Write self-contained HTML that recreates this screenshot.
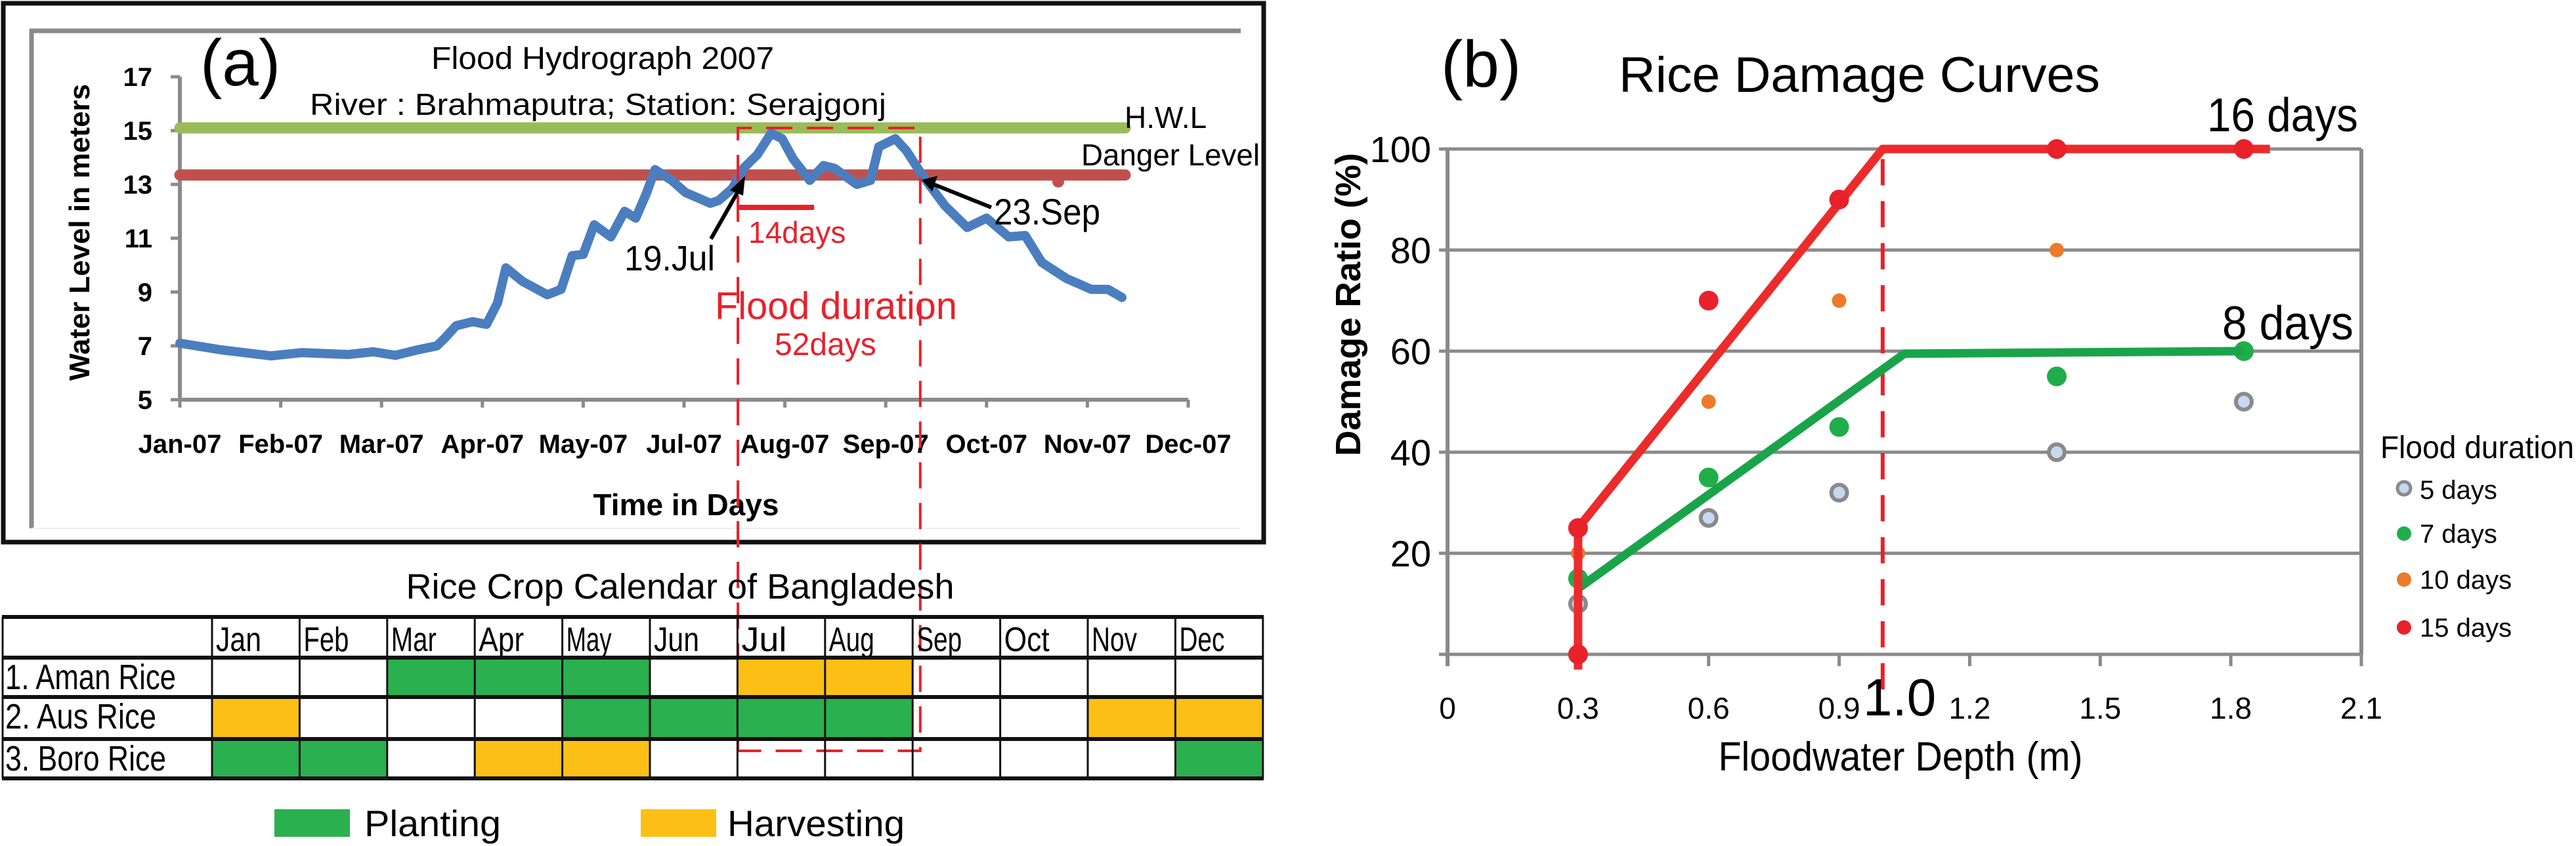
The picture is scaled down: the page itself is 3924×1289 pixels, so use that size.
<!DOCTYPE html>
<html><head><meta charset="utf-8"><style>
html,body{margin:0;padding:0;background:#fff;width:3924px;height:1289px;overflow:hidden}
svg text{font-family:"Liberation Sans",sans-serif}
</style></head><body>
<svg id="fig" width="3924" height="1289" viewBox="0 0 3924 1289" xmlns="http://www.w3.org/2000/svg">
<g id="panelA">
 <rect x="5" y="5" width="1920" height="821" fill="none" stroke="#111" stroke-width="7"/>
 <path d="M48 805 V47 H1890" fill="none" stroke="#8a8a8a" stroke-width="7"/>
 <line x1="48" y1="805" x2="1890" y2="805" stroke="#eee" stroke-width="2"/>
 <text x="305" y="130" font-size="100">(a)</text>
 <text x="918" y="105" font-size="48" text-anchor="middle" textLength="522" lengthAdjust="spacingAndGlyphs">Flood Hydrograph 2007</text>
 <text x="472" y="175" font-size="46" textLength="878" lengthAdjust="spacingAndGlyphs">River : Brahmaputra;  Station: Serajgonj</text>
 <text transform="translate(136,354) rotate(-90)" font-size="44" font-weight="bold" text-anchor="middle" textLength="452" lengthAdjust="spacingAndGlyphs">Water Level in meters</text>
 <text x="1045" y="785" font-size="46" font-weight="bold" text-anchor="middle">Time in Days</text>
 <g id="aAxes"></g>
 <g id="aSeries"></g>
 <text x="1713" y="195" font-size="46">H.W.L</text>
 <text x="1647" y="252" font-size="46" textLength="272" lengthAdjust="spacingAndGlyphs">Danger Level</text>
 <g id="aAnnot"></g>
</g>
<g id="calendar">
 <text x="1036" y="912" font-size="54" text-anchor="middle" textLength="835" lengthAdjust="spacingAndGlyphs">Rice Crop Calendar of Bangladesh</text>
 <g id="calTable"></g>
 <rect x="418" y="1233" width="115" height="42" fill="#2bb04f"/>
 <text x="555" y="1274" font-size="56" textLength="208" lengthAdjust="spacingAndGlyphs">Planting</text>
 <rect x="976" y="1233" width="115" height="42" fill="#fcbf16"/>
 <text x="1108" y="1274" font-size="56" textLength="270" lengthAdjust="spacingAndGlyphs">Harvesting</text>
</g>
<g id="panelB">
 <text x="2195" y="132" font-size="100">(b)</text>
 <text x="2466" y="140" font-size="76" textLength="733" lengthAdjust="spacingAndGlyphs">Rice Damage Curves</text>
 <text transform="translate(2072,464) rotate(-90)" font-size="54" font-weight="bold" text-anchor="middle" textLength="462" lengthAdjust="spacingAndGlyphs">Damage Ratio (%)</text>
 <text x="2895" y="1174" font-size="62" text-anchor="middle" textLength="555" lengthAdjust="spacingAndGlyphs">Floodwater Depth (m)</text>
 <g id="bAxes"></g>
 <g id="bSeries"></g>
 <text x="3362" y="200" font-size="72" textLength="230" lengthAdjust="spacingAndGlyphs">16 days</text>
 <text x="3385" y="517" font-size="72" textLength="200" lengthAdjust="spacingAndGlyphs">8 days</text>
 <text x="2838" y="1090" font-size="80">1.0</text>
 <g id="bLegend"></g>
</g>
</svg>
<script>
// ---------- Panel (a) data ----------
const aYTicks = [5, 7, 9, 11, 13, 15, 17];
const aXTickLabels = ["Jan-07","Feb-07","Mar-07","Apr-07","May-07","Jul-07","Aug-07","Sep-07","Oct-07","Nov-07","Dec-07"];
const levelDays = [0,15,33,44,61,70,78,86,93,96,100,106,111,115,118,124,133,138,142,146,150,156,161,165,169,172,178,183,192,195,200,204,209,214,218,222,228,233,237,245,250,253,259,263,269,277,285,292,300,306,312,321,330,336,341];
const levelValues = [7.1,6.85,6.63,6.75,6.68,6.78,6.65,6.85,7.0,7.3,7.75,7.9,7.8,8.6,9.9,9.4,8.9,9.1,10.35,10.4,11.5,11.05,12.0,11.75,12.7,13.55,13.15,12.7,12.3,12.4,12.85,13.6,14.1,14.9,14.7,13.95,13.15,13.7,13.6,13.0,13.15,14.4,14.7,14.25,13.3,12.2,11.4,11.75,11.05,11.1,10.1,9.5,9.1,9.1,8.8];
const hwlLevel = [15.1];
const dangerLevel = [13.35];
const floodDays = [202, 268];
// ---------- Calendar data ----------
const calMonths = ["Jan","Feb","Mar","Apr","May","Jun","Jul","Aug","Sep","Oct","Nov","Dec"];
const calCrops = ["1. Aman Rice","2. Aus Rice","3. Boro Rice"];
const calStatus = [
 "..PPP.HH....",
 "H...PPPP..HH",
 "PP.HH......P"];
// ---------- Panel (b) data ----------
const bYTicks = [0,20,40,60,80,100];
const bXTicks = ["0","0.3","0.6","0.9","1.2","1.5","1.8","2.1"];
const curve16X = [0.3,0.3,1.0,1.89];
const curve16Y = [-3,25,100,100];
const curve8X = [0.3,1.05,1.83];
const curve8Y = [13,59.5,60];
const d5X = [0.3,0.3,0.6,0.9,1.4,1.83];
const d5Y = [10,0,27,32,40,50];
const d7X = [0.3,0.6,0.9,1.4,1.83];
const d7Y = [15,35,45,55,60];
const d10X = [0.3,0.6,0.9,1.4];
const d10Y = [20,50,70,80];
const d15X = [0.3,0.3,0.6,0.9,1.4,1.83];
const d15Y = [25,0,70,90,100,100];
const legendLabels = ["5 days","7 days","10 days","15 days"];

const NS="http://www.w3.org/2000/svg";
function mk(parent, tag, attrs, txt){const e=document.createElementNS(NS,tag);for(const k in attrs)e.setAttribute(k,attrs[k]);if(txt!==undefined)e.textContent=txt;parent.appendChild(e);return e;}

const ax = d => 274 + d*(1536/365);
const ay = v => 609 - (v-5)*41;
const aAxes=document.getElementById('aAxes');
let e;
e=mk(aAxes,'line',{x1:274,y1:ay(17),x2:274,y2:ay(5),stroke:'#8a8a8a','stroke-width':6});


e=mk(aAxes,'line',{x1:274,y1:ay(5),x2:1810,y2:ay(5),stroke:'#8a8a8a','stroke-width':6});


aYTicks.forEach(v=>{
 mk(aAxes,'line',{x1:260,y1:ay(v),x2:274,y2:ay(v),stroke:'#8a8a8a','stroke-width':5});
 e=mk(aAxes,'text',{x:232,y:ay(v)+14,'font-size':40,'font-weight':'bold','text-anchor':'end'},String(v));
 
 
});
aXTickLabels.forEach((l,i)=>{
 const x=ax(i*36.5);
 mk(aAxes,'line',{x1:x,y1:ay(5),x2:x,y2:ay(5)+12,stroke:'#8a8a8a','stroke-width':5});
 e=mk(aAxes,'text',{x:x,y:690,'font-size':40,'font-weight':'bold','text-anchor':'middle'},l);
 
 
});
const aS=document.getElementById('aSeries');
e=mk(aS,'line',{x1:274,y1:ay(hwlLevel[0]),x2:1714,y2:ay(hwlLevel[0]),stroke:'#9bbb59','stroke-width':17,'stroke-linecap':'round'});


e=mk(aS,'line',{x1:274,y1:ay(dangerLevel[0]),x2:1714,y2:ay(dangerLevel[0]),stroke:'#c0504d','stroke-width':17,'stroke-linecap':'round'});


mk(aS,'circle',{cx:1612,cy:ay(dangerLevel[0])+10,r:9,fill:'#c0504d'});
e=mk(aS,'polyline',{points:levelDays.map((d,i)=>ax(d).toFixed(1)+','+ay(levelValues[i]).toFixed(1)).join(' '),fill:'none',stroke:'#4a7ebf','stroke-width':14,'stroke-linejoin':'round','stroke-linecap':'round'});



const an=document.getElementById('aAnnot');
const fx1=ax(floodDays[0]), fx2=ax(floodDays[1]);
e=mk(an,'path',{d:`M${fx1} 1144 V195 H${fx2} V1144 H${fx1}`,fill:'none',stroke:'#e8212b','stroke-width':4,'stroke-dasharray':'40 22'});


e=mk(an,'line',{x1:fx1,y1:316,x2:fx1+116,y2:316,stroke:'#e8212b','stroke-width':8});


mk(an,'text',{x:1140,y:370,'font-size':46,fill:'#e8212b'},'14days');
mk(an,'text',{x:1089,y:486,'font-size':58,fill:'#e8212b',textLength:369,lengthAdjust:'spacingAndGlyphs'},'Flood duration');
mk(an,'text',{x:1180,y:541,'font-size':48,fill:'#e8212b'},'52days');
mk(an,'text',{x:951,y:412,'font-size':54,textLength:138,lengthAdjust:'spacingAndGlyphs'},'19.Jul');
mk(an,'text',{x:1514,y:342,'font-size':56,textLength:162,lengthAdjust:'spacingAndGlyphs'},'23.Sep');
mk(an,'line',{x1:1083,y1:364,x2:1128,y2:285,stroke:'#000','stroke-width':6});
mk(an,'polygon',{points:'1135,268 1112,290 1132,298',fill:'#000'});
mk(an,'line',{x1:1510,y1:316,x2:1420,y2:280,stroke:'#000','stroke-width':6});
mk(an,'polygon',{points:'1404,274 1428,268 1420,292',fill:'#000'});

const ct=document.getElementById('calTable');
const colX = i => 323 + i*133.4;
const rowY=[940,1002,1062,1126,1186];
calStatus.forEach((r,ri)=>{
 [...r].forEach((c,ci)=>{
  if(c==='.')return;
  e=mk(ct,'rect',{x:colX(ci),y:rowY[ri+1],width:133.4,height:rowY[ri+2]-rowY[ri+1],fill:c==='P'?'#2bb04f':'#fcbf16'});
  
  
 });
 e=mk(ct,'text',{x:8,y:rowY[ri+1]+48,'font-size':54,textLength:[260,230,245][ri],lengthAdjust:'spacingAndGlyphs'},calCrops[ri]);
 
 
});
calMonths.forEach((m,i)=>{
 e=mk(ct,'text',{x:colX(i)+6,y:992,'font-size':52,textLength:m.length*23,lengthAdjust:'spacingAndGlyphs'},m);
 
 
});
for(let i=0;i<=12;i++) mk(ct,'line',{x1:colX(i),y1:940,x2:colX(i),y2:1186,stroke:'#111','stroke-width':3});
mk(ct,'line',{x1:4,y1:940,x2:4,y2:1186,stroke:'#111','stroke-width':3});
rowY.forEach(y=>mk(ct,'line',{x1:3,y1:y,x2:1925,y2:y,stroke:'#111','stroke-width':6}));

const bx = v => 2205 + v*(1392/2.1);
const by = v => 997 - v*7.7;
const bA=document.getElementById('bAxes');
bYTicks.forEach(v=>{
 mk(bA,'line',{x1:2192,y1:by(v),x2:bx(2.1),y2:by(v),stroke:'#8a8a8a','stroke-width':5});
 if(v>0){e=mk(bA,'text',{x:2180,y:by(v)+20,'font-size':56,'text-anchor':'end'},String(v));
 
 }
});
mk(bA,'line',{x1:bx(0),y1:by(100),x2:bx(0),y2:by(0)+18,stroke:'#8a8a8a','stroke-width':6});
mk(bA,'line',{x1:bx(2.1),y1:by(100),x2:bx(2.1),y2:by(0),stroke:'#8a8a8a','stroke-width':6});
bXTicks.forEach(t=>{
 const x=bx(parseFloat(t));
 mk(bA,'line',{x1:x,y1:by(0),x2:x,y2:by(0)+18,stroke:'#8a8a8a','stroke-width':5});
 e=mk(bA,'text',{x:x,y:1095,'font-size':46,'text-anchor':'middle'},t);
 
 
});
const bS=document.getElementById('bSeries');
e=mk(bS,'line',{x1:bx(1.0),y1:by(98),x2:bx(1.0),y2:1070,stroke:'#e8212b','stroke-width':6,'stroke-dasharray':'40 24'});


function dots(X,Y,name,draw){X.forEach((x,i)=>{const g=draw(bx(x),by(Y[i]));});}
dots(d5X,d5Y,'dot-5-days',(x,y)=>mk(bS,'circle',{cx:x,cy:y,r:12,fill:'#c6d9f0',stroke:'#8a8a8a','stroke-width':6}));
dots(d10X,d10Y,'dot-10-days',(x,y)=>mk(bS,'circle',{cx:x,cy:y,r:11,fill:'#ec7a2a'}));
dots(d7X,d7Y,'dot-7-days',(x,y)=>mk(bS,'circle',{cx:x,cy:y,r:15,fill:'#1fae4a'}));
e=mk(bS,'polyline',{points:curve8X.map((x,i)=>bx(x)+','+by(curve8Y[i])).join(' '),fill:'none',stroke:'#1aa44a','stroke-width':13,'stroke-linejoin':'round'});


e=mk(bS,'polyline',{points:curve16X.map((x,i)=>bx(x)+','+by(curve16Y[i])).join(' '),fill:'none',stroke:'#ec2b2b','stroke-width':13,'stroke-linejoin':'round'});


dots(d15X,d15Y,'dot-15-days',(x,y)=>mk(bS,'circle',{cx:x,cy:y,r:15,fill:'#e8212b'}));

const bL=document.getElementById('bLegend');
e=mk(bL,'text',{x:3626,y:698,'font-size':48,textLength:295,lengthAdjust:'spacingAndGlyphs'},'Flood duration');


const legY=[746,813,883,956];
legendLabels.forEach((l,i)=>{
 if(i===0) mk(bL,'circle',{cx:3662,cy:legY[i]-2,r:10,fill:'#c6d9f0',stroke:'#8a8a8a','stroke-width':5});
 else mk(bL,'circle',{cx:3662,cy:legY[i],r:11,fill:['','#1fae4a','#ec7a2a','#e8212b'][i]});
 e=mk(bL,'text',{x:3686,y:legY[i]+14,'font-size':40},l);
 
 
});
</script>
</body></html>
